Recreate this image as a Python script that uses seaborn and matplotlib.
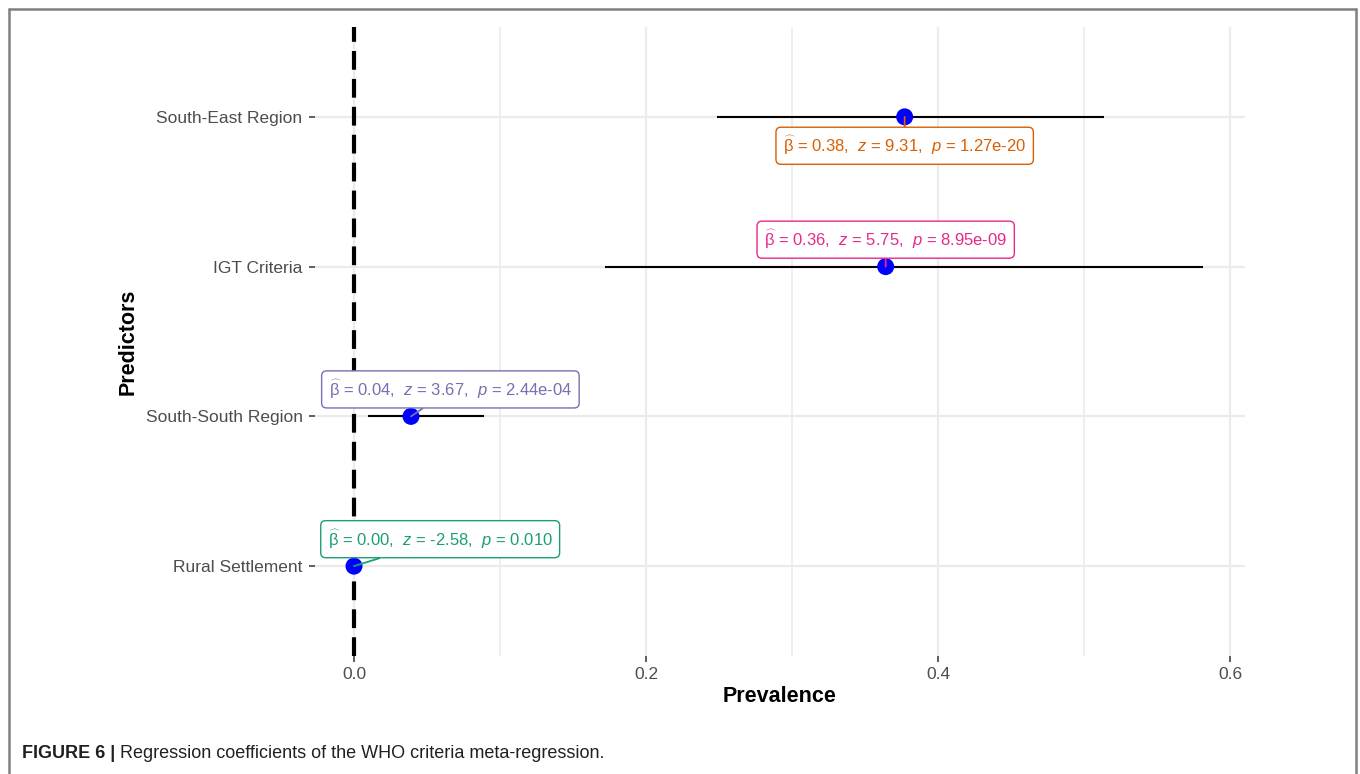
import matplotlib
matplotlib.use("Agg")
import matplotlib.pyplot as plt
from matplotlib.lines import Line2D
import numpy as np
import pandas as pd
import seaborn as sns

# Meta-regression coefficients (WHO criteria)
predictors = ["Rural Settlement", "South-South Region", "IGT Criteria", "South-East Region"]
estimate = [0.000, 0.039, 0.364, 0.377]
ci_low = [-0.001, 0.0095, 0.172, 0.2485]
ci_high = [0.001, 0.089, 0.5815, 0.5135]
beta_txt = ["0.00", "0.04", "0.36", "0.38"]
z_txt = ["-2.58", "3.67", "5.75", "9.31"]
p_txt = ["0.010", "2.44e-04", "8.95e-09", "1.27e-20"]
label_colors = ["#1B9E77", "#7570B3", "#E7298A", "#D95F02"]
x_ticks = [0.0, 0.2, 0.4, 0.6]
x_tick_labels = ["0.0", "0.2", "0.4", "0.6"]

# label box placement (offset from each point, in data units)
label_dx = [0.059, 0.027, 0.0, 0.0]
label_dy = [0.18, 0.18, 0.18, -0.193]

df = pd.DataFrame({
    "predictor": predictors,
    "pos": np.arange(1, len(predictors) + 1),
    "estimate": estimate,
    "lo": ci_low,
    "hi": ci_high,
})

sns.set_theme(style="white")
plt.rcParams["font.family"] = ["Liberation Sans", "DejaVu Sans"]
plt.rcParams["mathtext.fontset"] = "custom"
plt.rcParams["mathtext.rm"] = "Liberation Sans"
plt.rcParams["mathtext.it"] = "Liberation Sans:italic"
plt.rcParams["mathtext.bf"] = "Liberation Sans:bold"

fig = plt.figure(figsize=(13.6, 7.74), dpi=100)
ax = fig.add_axes([315 / 1360, 1 - 656 / 774, 930 / 1360, 629 / 774])

# grid
for xv in [0.1, 0.3, 0.5]:
    ax.axvline(xv, color="#EBEBEB", lw=1.2, zorder=0)
for xv in x_ticks:
    ax.axvline(xv, color="#EBEBEB", lw=1.6, zorder=0)
for yv in df["pos"]:
    ax.axhline(yv, color="#EBEBEB", lw=1.6, zorder=0)

# reference line at zero
ax.axvline(0, color="black", lw=3.0, ls=(0, (4.5, 2.2)), zorder=1)

# confidence intervals
ax.hlines(df["pos"], df["lo"], df["hi"], color="black", lw=1.5, zorder=2)

# point estimates
sns.scatterplot(data=df, x="estimate", y="pos", color="#0000FF", s=150,
                edgecolor="none", ax=ax, zorder=4, legend=False)

# labelled statistics
for i, row in df.iterrows():
    txt = (r"$\widehat{\mathrm{\beta}}$ = " + beta_txt[i] + r",  $z$ = " + z_txt[i]
           + r",  $p$ = " + p_txt[i])
    ax.annotate(txt, xy=(row["estimate"], row["pos"]),
                xytext=(row["estimate"] + label_dx[i], row["pos"] + label_dy[i]),
                ha="center", va="center", fontsize=12, color=label_colors[i],
                bbox=dict(boxstyle="round,pad=0.42,rounding_size=0.3",
                          fc="white", ec=label_colors[i], lw=1.0),
                arrowprops=dict(arrowstyle="-", color=label_colors[i], lw=1.3,
                                shrinkA=0, shrinkB=0),
                zorder=5)

ax.set_xlim(-0.0267, 0.610)
ax.set_ylim(0.4, 4.6)
ax.set_xticks(x_ticks)
ax.set_xticklabels(x_tick_labels)
ax.set_yticks(df["pos"])
ax.set_yticklabels(predictors)
ax.tick_params(axis="both", length=4, width=1.1, color="#333333",
               labelcolor="#4D4D4D", labelsize=12.5, pad=5)
ax.tick_params(axis="x", bottom=True, pad=4)
ax.tick_params(axis="y", left=True)
for sp in ax.spines.values():
    sp.set_visible(False)

ax.set_xlabel("Prevalence", fontsize=15.5, fontweight="bold", color="black")
ax.set_ylabel("Predictors", fontsize=15.5, fontweight="bold", color="black")
ax.xaxis.set_label_coords(0.5, -0.064)
ax.xaxis.label.set_va("center")
ax.yaxis.set_label_coords(-0.201, 0.5)
ax.yaxis.label.set_va("center")

# figure frame (open at the bottom)
frame_c = "#808080"
L, R, T = 8.5 / 1360, 1355.5 / 1360, 1 - 9 / 774
for xs, ys in [([L, L], [0, T]), ([L, R], [T, T]), ([R, R], [T, 0])]:
    fig.add_artist(Line2D(xs, ys, transform=fig.transFigure, color=frame_c, lw=1.8))

# caption
cap = fig.text(22 / 1360, 1 - 753 / 774, "FIGURE 6 |", fontsize=13,
               fontweight="bold", color="#231F20", va="center", ha="left")
fig.canvas.draw()
bb = cap.get_window_extent()
fig.text((bb.x1 + 5) / 1360, 1 - 753 / 774,
         "Regression coefficients of the WHO criteria meta-regression.",
         fontsize=13, color="#231F20", va="center", ha="left")

fig.savefig("out.png", dpi=100)
